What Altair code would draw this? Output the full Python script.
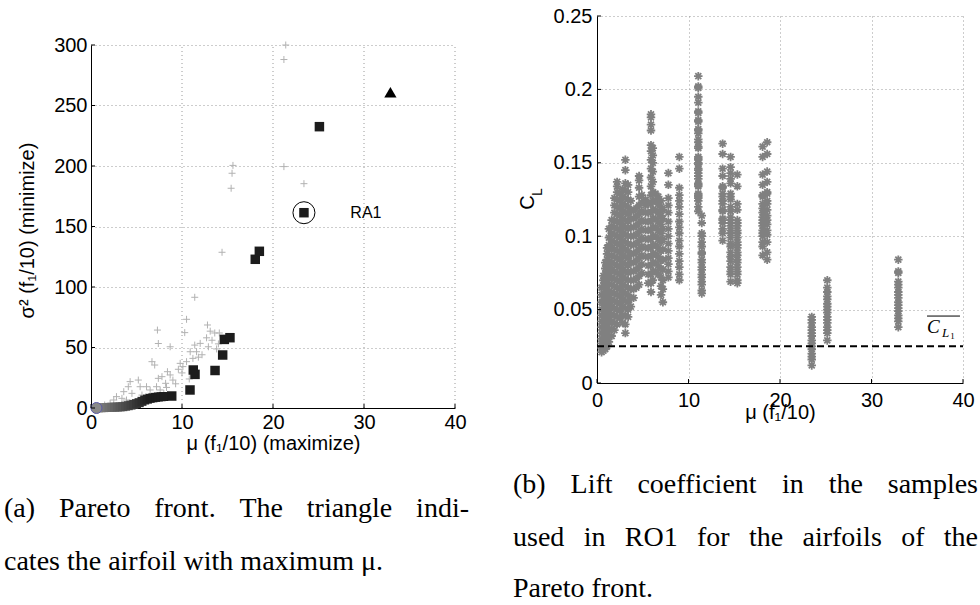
import altair as alt
import pandas as pd

# ---------------- (a) Pareto front ----------------
# dense part of the front (gradient markers)
band_x = [0.8, 1.1, 1.4, 1.7, 2.0, 2.3, 2.6, 2.9, 3.2, 3.5, 3.8, 4.1, 4.4, 4.7, 5.0, 5.3, 5.6, 5.9, 6.2, 6.5, 6.8, 7.1, 7.4, 7.7, 8.0]
band_y = [0.1, 0.2, 0.3, 0.4, 0.5, 0.6, 0.7, 0.8, 0.9, 1.1, 1.5, 1.9, 2.4, 3.0, 3.6, 4.4, 5.5, 6.6, 7.3, 8.0, 8.4, 8.8, 9.1, 9.3, 9.5]
start_x = [0.6]
start_y = [0.0]
# black squares of the front
sq_x = [8.87, 10.88, 11.43, 11.24, 13.63, 14.47, 14.65, 15.27, 18.05, 18.5, 23.4, 25.1]
sq_y = [9.9, 14.9, 27.8, 31.4, 31.0, 43.8, 56.7, 58.1, 122.9, 129.5, 161.4, 232.5]
# airfoil with maximum mu
tri_x = [32.9]
tri_y = [261.0]
# RA1 marked airfoil
ra1_x = [23.4]
ra1_y = [161.4]
ra1_label_x = [28.5]
# dominated solutions (light grey +)
plus_x = [21.4, 21.2, 15.6, 15.5, 15.4, 21.2, 23.4, 14.4, 11.4, 10.5,
          10.3, 7.3, 7.4, 8.7, 12.8, 13.1, 13.6, 14.1, 12.7, 12.9,
          13.8, 12.0, 11.4, 10.9, 11.6, 11.2, 11.8, 12.2, 10.5, 10.1,
          9.8, 9.6, 6.7, 7.0, 8.4, 8.7, 7.8, 7.4, 9.0, 8.2,
          7.2, 6.1, 5.2, 4.3, 5.4, 6.5, 7.6, 8.3, 4.1, 3.6,
          4.5, 5.6, 2.8, 3.4, 2.5, 3.9, 2.1, 1.5, 1.0, 10.0,
          10.8, 9.3, 8.0, 6.0, 4.8, 13.3, 14.0]
plus_y = [300, 288, 200.5, 194, 181.6, 199.5, 185.4, 128.7, 91.5, 73.3,
          62.3, 64.4, 53.3, 50.6, 68.6, 63.5, 62, 62, 58, 50.6,
          48.8, 53.4, 52, 46.5, 46.5, 41, 42, 44, 38.3, 34.2,
          36.9, 32, 38.3, 35.5, 30, 27.3, 25.9, 24.5, 23.1, 20.4,
          17.6, 17.6, 23.1, 21.8, 17.6, 14.9, 14.9, 17, 17.6, 13.5,
          12.1, 10.7, 9.4, 8.0, 6.6, 6.6, 3.9, 2.5, 1.2, 29,
          24, 20, 12, 9, 5, 56, 53]
a_xticks = [0, 10, 20, 30, 40]
a_yticks = [0, 50, 100, 150, 200, 250, 300]

# ---------------- (b) lift coefficient samples ----------------
cl_x = [0.5, 0.7, 0.9, 1.1, 1.3, 1.6, 1.9, 2.2, 2.5, 2.8, 3.1, 3.4, 3.7, 4.0, 4.3, 4.6, 4.9, 5.3, 5.6,
        5.9, 6.1, 6.4, 6.7, 7.0, 7.2, 7.8, 9.0, 11.07, 11.45, 13.73, 14.6, 15.34, 18.1, 18.6,
        23.47, 25.17, 32.93]
cl_vals = [
    [0.021, 0.024, 0.027, 0.030, 0.034, 0.038, 0.042, 0.046, 0.050, 0.055, 0.060, 0.065],
    [0.022, 0.025, 0.029, 0.033, 0.037, 0.041, 0.045, 0.049, 0.053, 0.057, 0.061, 0.066, 0.070, 0.073],
    [0.023, 0.026, 0.030, 0.034, 0.038, 0.042, 0.046, 0.050, 0.054, 0.058, 0.062, 0.066, 0.070, 0.074, 0.078, 0.082],
    [0.025, 0.028, 0.032, 0.036, 0.040, 0.044, 0.048, 0.052, 0.056, 0.060, 0.064, 0.068, 0.072, 0.076, 0.080, 0.084, 0.088, 0.092],
    [0.028, 0.032, 0.036, 0.041, 0.045, 0.050, 0.054, 0.058, 0.062, 0.067, 0.071, 0.075, 0.079, 0.083, 0.087, 0.091, 0.094, 0.099, 0.105],
    [0.032, 0.037, 0.042, 0.047, 0.052, 0.057, 0.062, 0.067, 0.072, 0.077, 0.082, 0.087, 0.092, 0.097, 0.102, 0.107, 0.111],
    [0.036, 0.041, 0.046, 0.051, 0.056, 0.061, 0.066, 0.071, 0.076, 0.081, 0.086, 0.091, 0.096, 0.101, 0.106, 0.111, 0.116, 0.121, 0.126],
    [0.040, 0.045, 0.050, 0.055, 0.060, 0.065, 0.070, 0.075, 0.080, 0.085, 0.090, 0.095, 0.100, 0.105, 0.110, 0.115, 0.120, 0.125, 0.130, 0.134, 0.137],
    [0.044, 0.049, 0.054, 0.059, 0.064, 0.069, 0.074, 0.079, 0.084, 0.089, 0.094, 0.099, 0.104, 0.109, 0.114, 0.119, 0.124, 0.129],
    [0.041, 0.046, 0.052, 0.057, 0.062, 0.067, 0.072, 0.077, 0.082, 0.087, 0.092, 0.097, 0.102, 0.107, 0.112, 0.117, 0.122, 0.127, 0.132],
    [0.034, 0.040, 0.046, 0.051, 0.056, 0.061, 0.066, 0.071, 0.076, 0.081, 0.086, 0.091, 0.096, 0.101, 0.106, 0.111, 0.116, 0.121, 0.126, 0.131, 0.136, 0.145, 0.152],
    [0.045, 0.050, 0.055, 0.060, 0.065, 0.070, 0.075, 0.080, 0.085, 0.090, 0.095, 0.100, 0.105, 0.110, 0.115, 0.120, 0.125, 0.130, 0.135],
    [0.052, 0.058, 0.064, 0.070, 0.076, 0.082, 0.088, 0.094, 0.100, 0.106, 0.112, 0.118, 0.124],
    [0.058, 0.064, 0.070, 0.076, 0.082, 0.088, 0.094, 0.100, 0.106, 0.112, 0.117],
    [0.065, 0.071, 0.077, 0.083, 0.089, 0.095, 0.101, 0.107, 0.113, 0.119],
    [0.067, 0.073, 0.079, 0.085, 0.091, 0.097, 0.103, 0.109, 0.115, 0.121, 0.127, 0.133, 0.138, 0.141],
    [0.075, 0.081, 0.087, 0.093, 0.099, 0.105, 0.111, 0.117, 0.123, 0.128],
    [0.086, 0.092, 0.098, 0.104, 0.110, 0.116, 0.121, 0.125],
    [0.068, 0.074, 0.080, 0.086, 0.092, 0.098, 0.104, 0.110, 0.116, 0.122],
    [0.062, 0.068, 0.074, 0.080, 0.086, 0.092, 0.098, 0.104, 0.110, 0.116, 0.122, 0.128, 0.134, 0.140, 0.146, 0.152, 0.158, 0.162, 0.172, 0.176, 0.181, 0.183],
    [0.070, 0.076, 0.082, 0.088, 0.094, 0.100, 0.106, 0.112, 0.118, 0.124, 0.130, 0.137, 0.144, 0.150, 0.155, 0.160],
    [0.076, 0.082, 0.088, 0.094, 0.100, 0.106, 0.112, 0.118, 0.124, 0.129],
    [0.074, 0.080, 0.086, 0.092, 0.098, 0.104, 0.110, 0.116, 0.122, 0.127],
    [0.060, 0.066, 0.072, 0.078, 0.084, 0.090, 0.096, 0.102, 0.108, 0.114, 0.120, 0.124],
    [0.055, 0.064, 0.070, 0.077, 0.084, 0.091, 0.098, 0.105, 0.112, 0.118],
    [0.072, 0.076, 0.081, 0.085, 0.090, 0.095, 0.100, 0.105, 0.110, 0.116, 0.121, 0.126, 0.135, 0.143],
    [0.070, 0.074, 0.079, 0.083, 0.088, 0.093, 0.097, 0.102, 0.106, 0.110, 0.115, 0.120, 0.124, 0.128, 0.133, 0.146, 0.154],
    [0.209, 0.202, 0.201, 0.195, 0.191, 0.185, 0.184, 0.179, 0.178, 0.173, 0.172, 0.170, 0.166, 0.164, 0.161, 0.160, 0.154, 0.153,
     0.152, 0.150, 0.149, 0.146, 0.145, 0.143, 0.141, 0.139, 0.136, 0.135, 0.134, 0.129, 0.128, 0.127, 0.126, 0.124, 0.120, 0.117],
    [0.114, 0.109, 0.102, 0.100, 0.096, 0.093, 0.089, 0.088, 0.084, 0.082, 0.079, 0.077, 0.074, 0.072, 0.069, 0.067, 0.063, 0.061],
    [0.163, 0.156, 0.146, 0.141, 0.134, 0.133, 0.129, 0.127, 0.124, 0.122, 0.118, 0.117, 0.112, 0.111, 0.109, 0.105, 0.102, 0.097],
    [0.154, 0.147, 0.143, 0.139, 0.136, 0.129, 0.127, 0.125, 0.120, 0.117, 0.113, 0.111, 0.109, 0.107, 0.104, 0.102, 0.099, 0.095,
     0.093, 0.089, 0.086, 0.083, 0.079, 0.076, 0.074, 0.069],
    [0.142, 0.134, 0.122, 0.118, 0.111, 0.109, 0.107, 0.104, 0.102, 0.099, 0.096, 0.094, 0.092, 0.089, 0.087, 0.084, 0.082, 0.079,
     0.076, 0.074, 0.070, 0.068],
    [0.161, 0.154, 0.142, 0.135, 0.128, 0.127, 0.122, 0.119, 0.116, 0.113, 0.111, 0.109, 0.107, 0.104, 0.102, 0.100, 0.096, 0.093, 0.087],
    [0.164, 0.156, 0.144, 0.137, 0.130, 0.129, 0.124, 0.122, 0.118, 0.114, 0.111, 0.108, 0.104, 0.101, 0.096, 0.089, 0.084],
    [0.045, 0.043, 0.041, 0.038, 0.036, 0.034, 0.032, 0.029, 0.027, 0.025, 0.023, 0.020, 0.018, 0.016, 0.012],
    [0.070, 0.065, 0.062, 0.059, 0.057, 0.054, 0.052, 0.050, 0.048, 0.045, 0.043, 0.041, 0.038, 0.036, 0.034, 0.029],
    [0.084, 0.076, 0.075, 0.069, 0.067, 0.065, 0.062, 0.060, 0.058, 0.055, 0.053, 0.051, 0.049, 0.046, 0.044, 0.042, 0.038],
]
cl_mean = [0.025]
b_xticks = [0, 10, 20, 30, 40]
b_yticks = [0, 0.05, 0.1, 0.15, 0.2, 0.25]

# ---------------- captions ----------------
cap_a1 = ["(a)", "Pareto", "front.", "The", "triangle", "indi-"]
cap_a2 = "cates the airfoil with maximum μ."
cap_b1 = ["(b)", "Lift", "coefficient", "in", "the", "samples"]
cap_b2 = ["used", "in", "RO1", "for", "the", "airfoils", "of", "the"]
cap_b3 = "Pareto front."

# ================= styling / layout =================
FONT = "Liberation Sans"
SERIF = "Liberation Serif"
WA, HA = 364, 363          # plot (a) data area
A_OFF = 29                 # plot (a) sits lower than plot (b)
WB, HB = 366, 367
CAP_FS = 28
GRID_C = "#9a9a9a"

TIMES = {" ": 250, "(": 333, ")": 333, ".": 250, "-": 333, "1": 500, "a": 444, "b": 500, "c": 444,
         "d": 500, "e": 444, "f": 333, "g": 500, "h": 500, "i": 278, "l": 278, "m": 778, "n": 500,
         "o": 500, "p": 500, "r": 333, "s": 389, "t": 278, "u": 500, "w": 722, "x": 500, "y": 500,
         "L": 611, "O": 722, "P": 556, "R": 667, "T": 611}


def word_w(w):
    return sum(TIMES.get(c, 500) for c in w) * CAP_FS / 1000.0


def justify(words, x0, x1):
    ws = [word_w(w) for w in words]
    gap = (x1 - x0 - sum(ws)) / (len(words) - 1)
    out, x = [], x0
    for w in ws:
        out.append(x)
        x += w + gap
    return out


def axis(values, title, grid=True, **kw):
    return alt.Axis(values=values, title=title, grid=grid, gridColor=GRID_C, gridDash=[1, 3],
                    gridWidth=1, ticks=False, domain=True, domainColor="black", domainWidth=1,
                    labelFont=FONT, labelFontSize=20, labelColor="black", labelFlush=False,
                    labelOverlap=False, titleFont=FONT, titleFontSize=20, titleFontWeight="normal",
                    titleColor="black", **kw)


# ---- panel (a) ----
xs_a = alt.Scale(domain=[0, 40], nice=False, zero=False)
ys_a = alt.Scale(domain=[0, 300], nice=False, zero=False, range=[HA + A_OFF, A_OFF])
ax_xa = axis(a_xticks, "μ (f₁/10) (maximize)", grid=False, labelPadding=4, titleY=25, titleBaseline="top")
ax_ya = axis(a_yticks, "σ² (f₁/10) (minimize)", labelPadding=4, titleX=-58, titleY=A_OFF + 185,
             titleBaseline="alphabetic")


def XA(f="x"):
    return alt.X(f"{f}:Q", scale=xs_a, axis=ax_xa)


def YA(f="y"):
    return alt.Y(f"{f}:Q", scale=ys_a, axis=ax_ya)


plus_df = pd.DataFrame({"x": plus_x, "y": plus_y})
band_df = pd.DataFrame({"x": band_x, "y": band_y})
start_df = pd.DataFrame({"x": start_x, "y": start_y})
sq_df = pd.DataFrame({"x": sq_x, "y": sq_y})
tri_df = pd.DataFrame({"x": tri_x, "y": tri_y})
ra1_df = pd.DataFrame({"x": ra1_x, "y": ra1_y, "lx": ra1_label_x, "t": ["RA1"]})

# vertical dotted grid of (a), limited to the data range
a_vgrid = alt.Chart(pd.DataFrame({"x": a_xticks[1:], "y": [0] * 4, "y2": [300] * 4})).mark_rule(
    color=GRID_C, strokeWidth=1, strokeDash=[1, 3]
).encode(x=XA(), y=YA(), y2="y2:Q")

plus_layer = alt.Chart(plus_df).mark_point(
    shape="M-1,0L1,0M0,-1L0,1", filled=False, color="#b2b2b2", strokeWidth=1, size=49, opacity=1
).encode(x=XA(), y=YA())

start_layer = alt.Chart(start_df).mark_point(
    shape="circle", filled=True, color="#8a8a8a", stroke="#5a5aa8", strokeWidth=1, size=121, opacity=1
).encode(x=XA(), y=YA())

band_layer = alt.Chart(band_df).mark_point(
    shape="square", filled=True, size=81, opacity=1
).encode(x=XA(), y=YA(),
         color=alt.Color("x:Q", scale=alt.Scale(domain=[0.8, 6.5], range=["#888888", "#1e1e1e"], clamp=True),
                         legend=None))

sq_layer = alt.Chart(sq_df).mark_point(
    shape="square", filled=True, color="#1c1c1c", size=90, opacity=1
).encode(x=XA(), y=YA())

tri_layer = alt.Chart(tri_df).mark_point(
    shape="triangle-up", filled=True, color="black", size=150, opacity=1
).encode(x=XA(), y=YA())

ra1_circle = alt.Chart(ra1_df).mark_point(
    shape="circle", filled=False, color="black", strokeWidth=1, size=484, opacity=1
).encode(x=XA(), y=YA())

ra1_text = alt.Chart(ra1_df).mark_text(
    font=FONT, fontSize=16, align="left", baseline="middle", color="black"
).encode(x=XA("lx"), y=YA(), text="t:N")

a_xt = alt.Chart(pd.DataFrame({"x": a_xticks})).mark_rule(color="black", strokeWidth=1).encode(
    x=XA(), y=alt.value(HA + A_OFF), y2=alt.value(HA + A_OFF - 4))
a_yt = alt.Chart(pd.DataFrame({"y": a_yticks})).mark_rule(color="black", strokeWidth=1).encode(
    y=YA(), x=alt.value(0), x2=alt.value(4))

# caption (a) placed through the panel scales
a_x0, a_x1 = -87, 378
a_rows = []
for w, px in zip(cap_a1, justify(cap_a1, a_x0, a_x1)):
    a_rows.append({"x": px * 40 / WA, "y": 300 - 472 * 300 / HA, "t": w})
a_rows.append({"x": a_x0 * 40 / WA, "y": 300 - 525 * 300 / HA, "t": cap_a2})
cap_a_layer = alt.Chart(pd.DataFrame(a_rows)).mark_text(
    font=SERIF, fontSize=CAP_FS, align="left", baseline="alphabetic", color="black"
).encode(x=XA(), y=YA(), text="t:N")

panel_a = alt.layer(
    a_vgrid, plus_layer, band_layer, start_layer, sq_layer, tri_layer, ra1_circle, ra1_text,
    a_xt, a_yt, cap_a_layer
).properties(width=WA, height=HA + A_OFF)

# ---- panel (b) ----
xs_b = alt.Scale(domain=[0, 40], nice=False, zero=False)
ys_b = alt.Scale(domain=[0, 0.25], nice=False, zero=False)
ax_xb = axis(b_xticks, "μ (f₁/10)", labelPadding=7, titleY=19, titleBaseline="top")
ax_yb = axis(b_yticks, "C", labelPadding=5, titleX=-64, titleY=186, titleBaseline="alphabetic",
             labelExpr="format(datum.value, '~g')")


def XB(f="x"):
    return alt.X(f"{f}:Q", scale=xs_b, axis=ax_xb)


def YB(f="y"):
    return alt.Y(f"{f}:Q", scale=ys_b, axis=ax_yb)


cl_rows = []
for cx, vals in zip(cl_x, cl_vals):
    for v in vals:
        cl_rows.append({"x": cx, "y": v})
cl_df = pd.DataFrame(cl_rows)

star_layer = alt.Chart(cl_df).mark_point(
    shape="M-1,0L1,0M0,-1L0,1M-0.7,-0.7L0.7,0.7M-0.7,0.7L0.7,-0.7", filled=False,
    color="#808080", strokeWidth=1.8, size=72, opacity=1
).encode(x=XB(), y=YB())

mean_layer = alt.Chart(pd.DataFrame({"y": cl_mean})).mark_rule(
    color="black", strokeWidth=2, strokeDash=[7, 4]
).encode(y=YB(), x=alt.value(0), x2=alt.value(WB))

sub_L = alt.Chart(pd.DataFrame({"t": ["L"]})).mark_text(
    font=FONT, fontSize=14, angle=270, align="center", baseline="alphabetic", color="black"
).encode(x=alt.value(-55), y=alt.value(176), text="t:N")

# overlined C_{L1} label
lab_df = pd.DataFrame({"x": [36.07], "x2": [39.67], "y": [0.034], "yo": [0.0456],
                       "xl": [37.7], "yl": [0.031], "x1": [38.6], "y1": [0.030],
                       "c": ["C"], "l": ["L"], "o": ["1"]})
lab_c = alt.Chart(lab_df).mark_text(font=SERIF, fontSize=19, fontStyle="italic", align="left",
                                    baseline="alphabetic", color="black").encode(
    x=XB(), y=YB(), text="c:N")
lab_l = alt.Chart(lab_df).mark_text(font=SERIF, fontSize=13, fontStyle="italic", align="left",
                                    baseline="alphabetic", color="black").encode(
    x=XB("xl"), y=YB("yl"), text="l:N")
lab_1 = alt.Chart(lab_df).mark_text(font=SERIF, fontSize=9, align="left",
                                    baseline="alphabetic", color="black").encode(
    x=XB("x1"), y=YB("y1"), text="o:N")
lab_bar = alt.Chart(lab_df).mark_rule(color="black", strokeWidth=1).encode(
    x=XB(), x2="x2:Q", y=YB("yo"))

b_xt = alt.Chart(pd.DataFrame({"x": b_xticks})).mark_rule(color="black", strokeWidth=1).encode(
    x=XB(), y=alt.value(HB), y2=alt.value(HB - 4))
b_yt = alt.Chart(pd.DataFrame({"y": b_yticks})).mark_rule(color="black", strokeWidth=1).encode(
    y=YB(), x=alt.value(0), x2=alt.value(4))

b_x0, b_x1 = -84, 381
b_rows = []
for w, px in zip(cap_b1, justify(cap_b1, b_x0, b_x1)):
    b_rows.append({"x": px * 40 / WB, "y": 0.25 - 477 * 0.25 / HB, "t": w})
for w, px in zip(cap_b2, justify(cap_b2, b_x0, b_x1)):
    b_rows.append({"x": px * 40 / WB, "y": 0.25 - 530 * 0.25 / HB, "t": w})
b_rows.append({"x": b_x0 * 40 / WB, "y": 0.25 - 581 * 0.25 / HB, "t": cap_b3})
cap_b_layer = alt.Chart(pd.DataFrame(b_rows)).mark_text(
    font=SERIF, fontSize=CAP_FS, align="left", baseline="alphabetic", color="black"
).encode(x=XB(), y=YB(), text="t:N")

panel_b = alt.layer(
    star_layer, mean_layer, b_xt, b_yt, sub_L, lab_c, lab_l, lab_1, lab_bar, cap_b_layer
).properties(width=WB, height=HB)

chart = alt.hconcat(panel_a, panel_b, spacing=44).properties(
    padding={"left": 4, "top": 6, "right": 0, "bottom": 0},
    background="white",
).configure_view(stroke=None)

chart.save("out.html", embed_options={"renderer": "svg", "actions": False})
